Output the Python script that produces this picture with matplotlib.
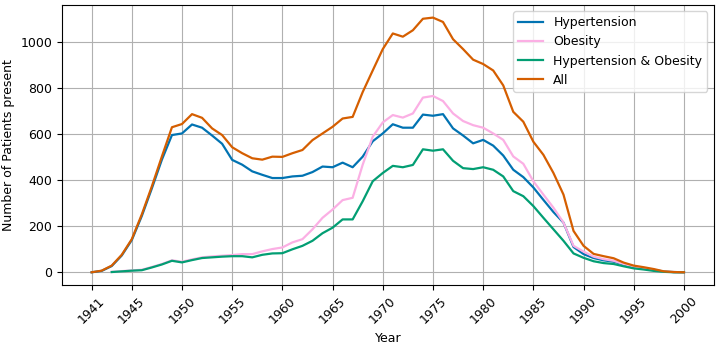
import matplotlib
matplotlib.use("Agg")
import matplotlib.pyplot as plt

plt.rcParams["font.size"] = 9

years = list(range(1941, 2001))

all_patients = [0, 7, 29, 76, 144, 252, 374, 504, 631, 645,
                688, 672, 626, 597, 544, 518, 496, 490, 503, 502,
                518, 532, 575, 604, 633, 669, 676, 784, 878, 971,
                1039, 1025, 1053, 1103, 1108, 1089, 1014, 971, 925, 906,
                878, 813, 698, 655, 568, 511, 432, 338, 180, 115,
                80, 70, 61, 42, 29, 22, 14, 4, 1, 0]

hypertension = [0, 6, 27, 73, 140, 245, 365, 490, 597, 604,
                643, 629, 595, 559, 489, 468, 439, 424, 410, 410,
                417, 420, 436, 460, 457, 477, 457, 503, 570, 604,
                644, 629, 629, 686, 681, 688, 626, 595, 561, 576,
                551, 508, 446, 414, 369, 315, 262, 216, 110, 79,
                62, 52, 46, 34, 23, 17, 10, 3, 1, 0]

obesity_years = list(range(1943, 2001))
obesity = [2, 5, 8, 11, 23, 36, 52, 46,
           56, 65, 69, 72, 75, 79, 79, 91, 101, 108,
           130, 144, 187, 237, 273, 314, 324, 468, 590, 652,
           684, 673, 691, 760, 767, 745, 691, 658, 640, 629,
           604, 576, 504, 472, 396, 338, 281, 216, 115, 90,
           68, 57, 50, 36, 25, 18, 11, 3, 1, 0]

both = [1, 4, 7, 9, 21, 34, 50, 43,
        53, 62, 65, 68, 70, 70, 65, 76, 82, 83,
        100, 115, 137, 170, 194, 230, 230, 309, 396, 432,
        463, 457, 467, 535, 529, 535, 485, 453, 449, 457,
        446, 417, 353, 331, 288, 237, 187, 137, 82, 63,
        48, 40, 36, 26, 17, 12, 6, 2, 0, 0]

xticks = [1941, 1945, 1950, 1955, 1960, 1965, 1970, 1975, 1980, 1985, 1990, 1995, 2000]

fig = plt.figure(figsize=(7.16, 3.48), dpi=100)
ax = fig.add_axes([0.0866, 0.181, 0.910, 0.805])

ax.plot(years, hypertension, color="#0173b2", lw=1.6, label="Hypertension")
ax.plot(obesity_years, obesity, color="#fbafe4", lw=1.6, label="Obesity")
ax.plot(obesity_years, both, color="#029e73", lw=1.6, label="Hypertension & Obesity")
ax.plot(years, all_patients, color="#d55e00", lw=1.6, label="All")

ax.set_xticks(xticks)
ax.set_xticklabels([str(t) for t in xticks], rotation=45)
ax.set_xlabel("Year")
ax.set_ylabel("Number of Patients present")
ax.grid(True, color="#b0b0b0", lw=0.8)
ax.legend(loc="upper right")

fig.savefig("out.png", dpi=100)
